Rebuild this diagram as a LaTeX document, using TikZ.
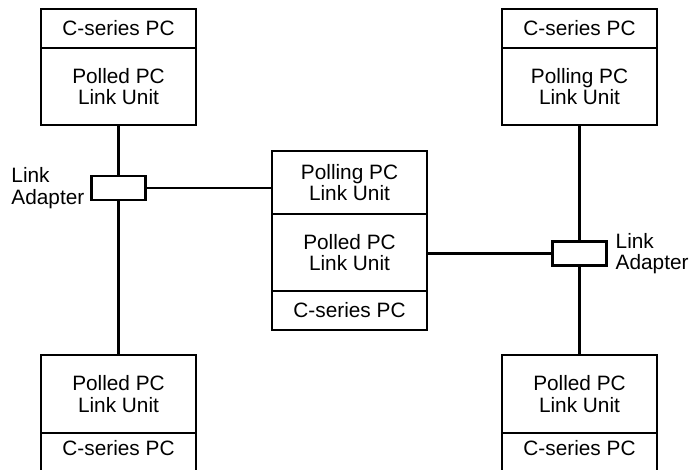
\documentclass[tikz,border=0pt]{standalone}
\usepackage{fontspec}
\setmainfont{Liberation Sans}
\begin{document}
\begin{tikzpicture}[x=1pt,y=1pt,
  part/.style={draw, line width=2.7pt, minimum width=155pt, inner sep=0pt, outer sep=0pt, align=center,
    font=\fontsize{20.8}{21.5}\selectfont},
  adapter/.style={draw, line width=2.5pt, minimum width=54pt, minimum height=24pt, inner sep=0pt, outer sep=0pt},
  lbl/.style={align=left, inner sep=0pt, font=\fontsize{20.8}{21.5}\selectfont},
  wire/.style={line width=2.5pt}]
\useasboundingbox (0,0) rectangle (691,469);
\clip (0,0) rectangle (691,469);
% top-left
\node[part, minimum height=39pt] (tlpc) at (118.5,440.5) {C-series PC};
\node[part, minimum height=77pt, anchor=north] (tllu) at (tlpc.south) {Polled PC\\Link Unit};
% top-right
\node[part, minimum height=39pt] (trpc) at (579.5,440.5) {C-series PC};
\node[part, minimum height=77pt, anchor=north] (trlu) at (trpc.south) {Polling PC\\Link Unit};
% middle
\node[part, minimum height=63pt] (mpoll) at (349.5,286.5) {Polling PC\\Link Unit};
\node[part, minimum height=77pt, anchor=north] (mpolled) at (mpoll.south) {Polled PC\\Link Unit};
\node[part, minimum height=39pt, anchor=north] (mpc) at (mpolled.south) {C-series PC};
% bottom-left
\node[part, minimum height=78pt] (bllu) at (118.5,75) {Polled PC\\Link Unit};
\node[part, minimum height=50pt, anchor=north, text depth=21pt] (blpc) at (bllu.south) {C-series PC};
% bottom-right
\node[part, minimum height=78pt] (brlu) at (579.5,75) {Polled PC\\Link Unit};
\node[part, minimum height=50pt, anchor=north, text depth=21pt] (brpc) at (brlu.south) {C-series PC};
% adapters
\node[adapter] (la) at (118.5,281) {};
\node[adapter] (ra) at (579.5,215.5) {};
\node[lbl, anchor=east] (lal) at ([xshift=-7pt]la.west) {Link\\Adapter};
\node[lbl, anchor=west] (ral) at ([xshift=9pt]ra.east) {Link\\Adapter};
% wires
\draw[wire] (tllu.south) -- (la.north);
\draw[wire] (la.south) -- (bllu.north);
\draw[wire] (la.east) -- (la.east -| mpoll.west);
\draw[wire] (trlu.south) -- (ra.north);
\draw[wire] (ra.south) -- (brlu.north);
\draw[wire] (ra.west -| mpolled.east) -- (ra.west);
\end{tikzpicture}
\end{document}
